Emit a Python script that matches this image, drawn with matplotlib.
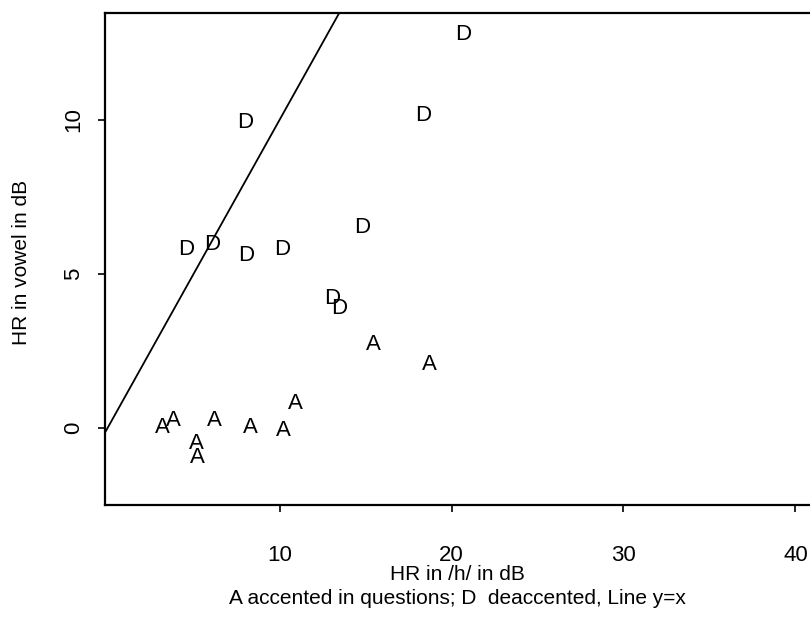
import numpy as np
import matplotlib.pyplot as plt

plt.rcParams['font.family'] = ['Liberation Sans', 'DejaVu Sans']

# accented in questions (A)
a_x = [3.20, 3.84, 6.22, 8.31, 10.23, 10.93, 5.17, 5.23, 15.47, 18.72]
a_y = [0.10, 0.32, 0.32, 0.10, 0.00, 0.88, -0.42, -0.88, 2.79, 2.14]

# deaccented (D)
d_x = [4.59, 6.10, 8.08, 10.17, 13.08, 13.49, 14.83, 20.70, 18.37, 8.02]
d_y = [5.88, 6.04, 5.68, 5.88, 4.29, 3.96, 6.59, 12.86, 10.23, 10.00]

x_ticks = [10, 20, 30, 40]
y_ticks = [0, 5, 10]

fig = plt.figure(figsize=(8.1, 6.22), dpi=100)
# the right side of the box runs off the page like in the scan
ax = fig.add_axes([105 / 810, 117 / 622, 730 / 810, 492 / 622])

fs = 16
for lab, xs, ys in [('A', a_x, a_y), ('D', d_x, d_y)]:
    for x, y in zip(xs, ys):
        ax.annotate(lab, (x, y), xytext=(0, -5.8), textcoords='offset points',
                    ha='center', va='baseline', fontsize=fs, color='black')

# line y = x
ax.axline((0, 0), slope=1, color='black', lw=1.3)

ax.set_xlim(-0.15, 42.3)
ax.set_ylim(-2.5, 13.47)
ax.set_xticks(x_ticks)
ax.set_yticks(y_ticks)
ax.set_xticklabels([str(t) for t in x_ticks], fontsize=fs)
ax.set_yticklabels([str(t) for t in y_ticks], fontsize=fs, rotation=90, va='center')
ax.tick_params(direction='out', length=5, width=1.2, color='black')
ax.tick_params(axis='x', pad=24)
ax.tick_params(axis='y', pad=10)
for s in ax.spines.values():
    s.set_linewidth(1.6)

lab_fs = 15
fig.text(22 / 810, 1 - 262 / 622, 'HR in vowel in dB', rotation=90,
         ha='center', va='center', fontsize=lab_fs)
fig.text(457 / 810, 1 - 575 / 622, 'HR in /h/ in dB', ha='center', va='center', fontsize=lab_fs)
fig.text(457 / 810, 1 - 599 / 622, 'A accented in questions; D  deaccented, Line y=x',
         ha='center', va='center', fontsize=lab_fs)

fig.savefig('out.png', dpi=100)
